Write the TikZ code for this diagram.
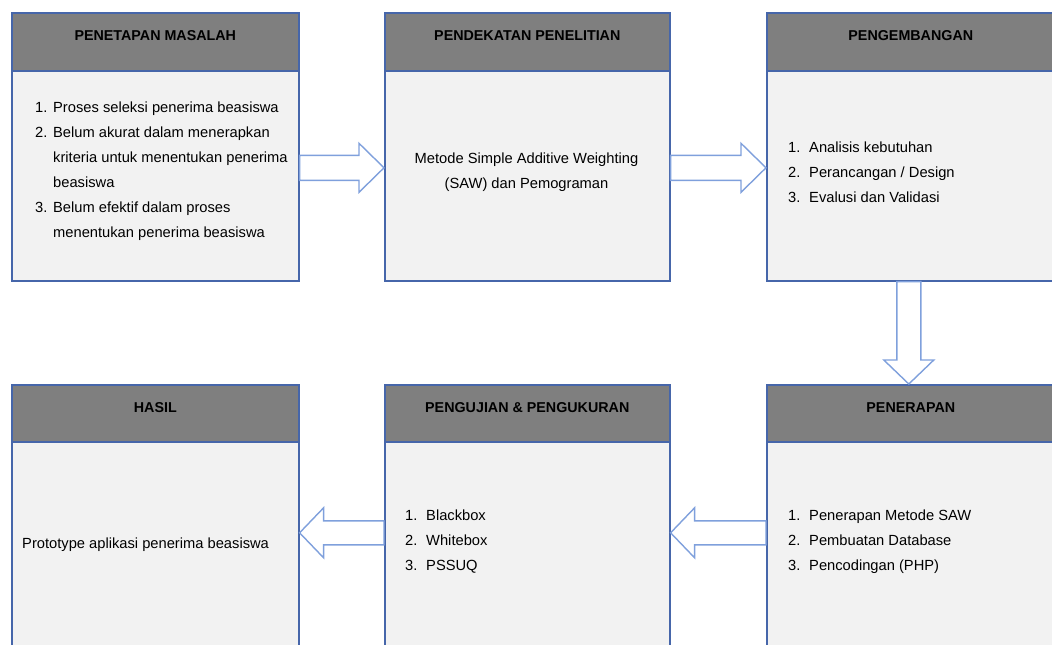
\documentclass[tikz,border=0pt]{standalone}
\usepackage{fontspec}
\setmainfont{Liberation Sans}
\usetikzlibrary{calc}
\definecolor{boxborder}{HTML}{4666AA}
\definecolor{arrowline}{HTML}{7FA0DC}
\definecolor{headgray}{HTML}{7F7F7F}
\definecolor{bodygray}{HTML}{F2F2F2}
\newcommand\numit[2]{\makebox[#1][l]{#2}}
\begin{document}
\begin{tikzpicture}[x=1pt,y=-1pt,
  header/.style={draw=boxborder, fill=headgray, line width=1.6pt, rectangle,
    inner sep=0pt, anchor=north west, minimum height=58pt,
    font=\fontsize{14.3}{17}\selectfont\bfseries, text height=10pt, text depth=12pt},
  bodybox/.style={draw=boxborder, fill=bodygray, line width=1.6pt, rectangle,
    inner sep=0pt, anchor=north west},
  listtext/.style={anchor=west, align=left, inner sep=0pt,
    font=\fontsize{14.7}{25}\selectfont},
  blockarrow/.style={draw=arrowline, fill=white, line width=1.4pt, line join=miter}]
\useasboundingbox (0,0) rectangle (1052,645);
\clip (0,0) rectangle (1052,645);

% top row
\node[bodybox, minimum width=287pt, minimum height=210pt] (b1) at (11,70) {};
\node[header, minimum width=287pt] (h1) at (11,12) {PENETAPAN MASALAH};
\node[bodybox, minimum width=285pt, minimum height=210pt] (b2) at (384,70) {};
\node[header, minimum width=285pt] (h2) at (384,12) {PENDEKATAN PENELITIAN};
\node[bodybox, minimum width=288pt, minimum height=210pt] (b3) at (766,70) {};
\node[header, minimum width=288pt] (h3) at (766,12) {PENGEMBANGAN};

% bottom row
\node[bodybox, minimum width=287pt, minimum height=218pt] (b6) at (11,441) {};
\node[header, minimum width=287pt, minimum height=57pt] (h6) at (11,384) {HASIL};
\node[bodybox, minimum width=285pt, minimum height=218pt] (b5) at (384,441) {};
\node[header, minimum width=285pt, minimum height=57pt] (h5) at (384,384) {PENGUJIAN \& PENGUKURAN};
\node[bodybox, minimum width=288pt, minimum height=218pt] (b4) at (766,441) {};
\node[header, minimum width=288pt, minimum height=57pt] (h4) at (766,384) {PENERAPAN};

% texts
\node[listtext] (t1) at (35,171) {%
\numit{18pt}{1.}Proses seleksi penerima beasiswa\\
\numit{18pt}{2.}Belum akurat dalam menerapkan\\
\hspace*{18pt}kriteria untuk menentukan penerima\\
\hspace*{18pt}beasiswa\\
\numit{18pt}{3.}Belum efektif dalam proses\\
\hspace*{18pt}menentukan penerima beasiswa};
\node[listtext, anchor=center, align=center, font=\fontsize{14.7}{24.5}\selectfont] (t2) at (526.5,172)
  {Metode Simple Additive Weighting\\(SAW) dan Pemograman};
\node[listtext] (t3) at (788,172) {%
\numit{21pt}{1.}Analisis kebutuhan\\
\numit{21pt}{2.}Perancangan / Design\\
\numit{21pt}{3.}Evalusi dan Validasi};
\node[listtext] (t4) at (788,542) {%
\numit{21pt}{1.}Penerapan Metode SAW\\
\numit{21pt}{2.}Pembuatan Database\\
\numit{21pt}{3.}Pencodingan (PHP)};
\node[listtext] (t5) at (405,542) {%
\numit{21pt}{1.}Blackbox\\
\numit{21pt}{2.}Whitebox\\
\numit{21pt}{3.}PSSUQ};
\node[listtext] (t6) at (22,545) {Prototype aplikasi penerima beasiswa};

% arrows
\coordinate (a1s) at ($(b1.east)+(0,-8)$);
\coordinate (a1e) at ($(b2.west)+(0,-8)$);
\draw[blockarrow] ($(a1s)+(0,-12.5)$) -- ($(a1e)+(-25,-12.5)$) -- ($(a1e)+(-25,-24.5)$)
  -- (a1e) -- ($(a1e)+(-25,24.5)$) -- ($(a1e)+(-25,12.5)$) -- ($(a1s)+(0,12.5)$) -- cycle;
\coordinate (a2s) at ($(b2.east)+(0,-8)$);
\coordinate (a2e) at ($(b3.west)+(0,-8)$);
\draw[blockarrow] ($(a2s)+(0,-12.5)$) -- ($(a2e)+(-25,-12.5)$) -- ($(a2e)+(-25,-24.5)$)
  -- (a2e) -- ($(a2e)+(-25,24.5)$) -- ($(a2e)+(-25,12.5)$) -- ($(a2s)+(0,12.5)$) -- cycle;
\coordinate (a3s) at ($(b3.south)+(-2,0)$);
\coordinate (a3e) at ($(h4.north)+(-2,0)$);
\draw[blockarrow] ($(a3s)+(-12,0)$) -- ($(a3e)+(-12,-24)$) -- ($(a3e)+(-25,-24)$)
  -- (a3e) -- ($(a3e)+(25,-24)$) -- ($(a3e)+(12,-24)$) -- ($(a3s)+(12,0)$) -- cycle;
\coordinate (a4s) at ($(b4.west)+(0,-18)$);
\coordinate (a4e) at ($(b5.east)+(0,-18)$);
\draw[blockarrow] ($(a4s)+(0,-12)$) -- ($(a4e)+(24,-12)$) -- ($(a4e)+(24,-25)$)
  -- (a4e) -- ($(a4e)+(24,25)$) -- ($(a4e)+(24,12)$) -- ($(a4s)+(0,12)$) -- cycle;
\coordinate (a5s) at ($(b5.west)+(0,-18)$);
\coordinate (a5e) at ($(b6.east)+(0,-18)$);
\draw[blockarrow] ($(a5s)+(0,-12)$) -- ($(a5e)+(24,-12)$) -- ($(a5e)+(24,-25)$)
  -- (a5e) -- ($(a5e)+(24,25)$) -- ($(a5e)+(24,12)$) -- ($(a5s)+(0,12)$) -- cycle;
\end{tikzpicture}
\end{document}
